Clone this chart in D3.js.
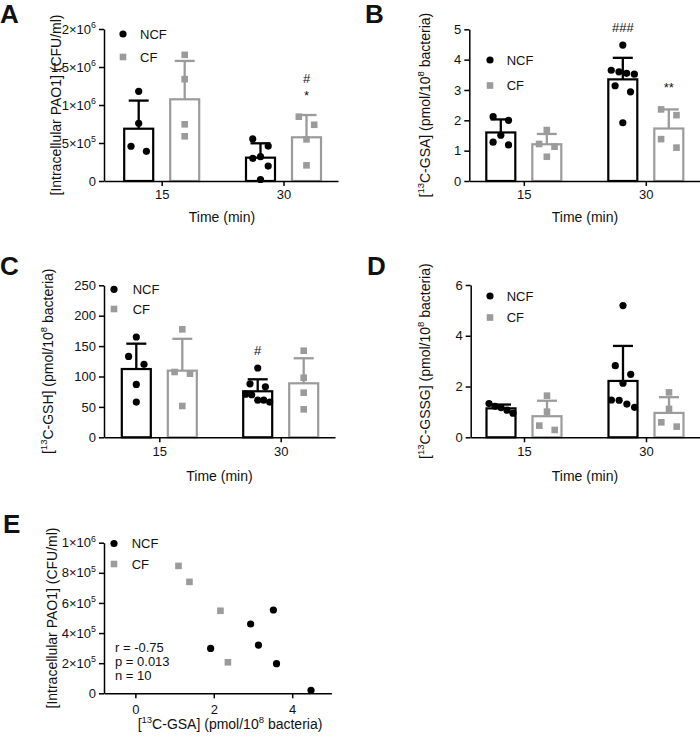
<!DOCTYPE html>
<html><head><meta charset="utf-8">
<script src="https://cdn.jsdelivr.net/npm/d3@7"></script>
<style>
body{margin:0;background:#fff}
svg{display:block}
text{font-family:"Liberation Sans",Arial,Helvetica,sans-serif;fill:#111}
</style>
</head><body>
<svg id="chart" width="700" height="741"></svg>
<script>
// ---------------- data ----------------
const times = ["15", "30"];
const groups = ["NCF", "CF"];

// Panel A: intracellular PAO1 (CFU/ml)
const pao1NcfMean = [6.88e5, 3.07e5];
const pao1NcfSd   = [3.70e5, 1.89e5];
const pao1CfMean  = [1.075e6, 5.75e5];
const pao1CfSd    = [5.05e5, 2.93e5];
const pao1Ncf15 = [1.18e6, 7.6e5, 4.57e5, 3.9e5];
const pao1Ncf30 = [5.53e5, 4.6e5, 3.2e5, 2.98e5, 1.97e5, 2.0e4];
const pao1Cf15  = [1.66e6, 1.34e6, 7.46e5, 5.88e5];
const pao1Cf30  = [8.46e5, 7.4e5, 5.48e5, 2.06e5];
const pao1Ticks = [0, 5e5, 1e6, 1.5e6, 2e6];

// Panel B: 13C-GSA
const gsaNcfMean = [1.60, 3.35];
const gsaNcfSd   = [0.43, 0.71];
const gsaCfMean  = [1.21, 1.73];
const gsaCfSd    = [0.34, 0.63];
const gsaNcf15 = [2.12, 2.00, 1.51, 1.28, 1.19];
const gsaNcf30 = [4.48, 3.65, 3.60, 3.55, 3.52, 3.14, 2.94, 1.92];
const gsaCf15  = [1.68, 1.22, 1.13, 0.80];
const gsaCf30  = [2.36, 2.17, 1.38, 1.10];
const gsaTicks = [0, 1, 2, 3, 4, 5];

// Panel C: 13C-GSH
const gshNcfMean = [112.3, 75.7];
const gshNcfSd   = [41.7, 19.7];
const gshCfMean  = [109.6, 88.8];
const gshCfSd    = [52.4, 41.2];
const gshNcf15 = [165, 133, 120, 87, 58];
const gshNcf30 = [114, 88, 83, 71, 70, 61, 61, 58];
const gshCf15  = [177.6, 107.4, 104.6, 51.5];
const gshCf30  = [142.4, 98, 73.4, 46];
const gshTicks = [0, 50, 100, 150, 200, 250];

// Panel D: 13C-GSSG
const gssgNcfMean = [1.14, 2.22];
const gssgNcfSd   = [0.15, 1.38];
const gssgCfMean  = [0.83, 0.96];
const gssgCfSd    = [0.61, 0.62];
const gssgNcf15 = [1.33, 1.22, 1.17, 1.07, 0.95];
const gssgNcf30 = [5.19, 2.82, 2.48, 2.13, 1.47, 1.46, 1.31, 1.18];
const gssgCf15  = [1.64, 1.01, 0.46, 0.29];
const gssgCf30  = [1.77, 1.12, 0.59, 0.42];
const gssgTicks = [0, 2, 4, 6];

// Panel E: correlation GSA vs PAO1
const corrNcfGsa  = [1.92, 2.94, 3.14, 3.52, 3.60, 4.48];
const corrNcfPao1 = [2.98e5, 4.6e5, 3.2e5, 5.53e5, 1.97e5, 2.0e4];
const corrCfGsa   = [1.10, 1.38, 2.17, 2.36];
const corrCfPao1  = [8.46e5, 7.4e5, 5.48e5, 2.06e5];
const corrXTicks  = [0, 2, 4];
const corrYTicks  = [0, 2e5, 4e5, 6e5, 8e5, 1e6];
const corrStats   = ["r = -0.75", "p = 0.013", "n = 10"];

// significance labels
const annotA = [{time: "30", group: "CF", lines: ["#", "*"]}];
const annotB = [{time: "30", group: "NCF", lines: ["###"]}, {time: "30", group: "CF", lines: ["**"]}];
const annotC = [{time: "30", group: "NCF", lines: ["#"]}];

// ---------------- style ----------------
const BLACK = "#000";
const GRAY = "#9b9b9b";
const colors = {NCF: BLACK, CF: GRAY};
const TICK_FS = 13, TITLE_FS = 14, LEG_FS = 13;

const svg = d3.select("#chart");

function rich(sel, str, size) {
  sel.text(null);
  const parts = str.split(/(\{[^}]*\})/).filter(s => s.length);
  let up = false;
  parts.forEach(p => {
    const sup = p[0] === "{";
    const t = sup ? p.slice(1, -1) : p;
    const ts = sel.append("tspan").text(t);
    if (sup) {
      ts.attr("font-size", size * 0.68);
      if (!up) { ts.attr("dy", -size * 0.42); up = true; }
    } else if (up) { ts.attr("dy", size * 0.42); up = false; }
  });
}
function sci(v) {
  if (v === 0) return "0";
  const e = Math.floor(Math.log10(v) + 1e-9);
  const m = +(v / Math.pow(10, e)).toFixed(2);
  return m + "×10{" + e + "}";
}
const plain = d => String(d);
function styleAxis(ax) {
  ax.selectAll("path,line").attr("stroke", BLACK).attr("stroke-width", 1.5);
  ax.selectAll("text").attr("font-size", TICK_FS).attr("fill", "#111")
    .attr("font-family", "'Liberation Sans',Arial,sans-serif");
}
function swarm(vals, y, D, s, maxHalf) {
  const ys = vals.map(y);
  const idx = d3.range(vals.length).sort((a, b) => ys[a] - ys[b]);
  const off = new Array(vals.length).fill(0);
  let i = 0;
  while (i < idx.length) {
    const row = [idx[i]]; let j = i + 1;
    while (j < idx.length && ys[idx[j]] - ys[idx[i]] < D) { row.push(idx[j]); j++; }
    const n = row.length;
    let offs;
    if (n === 1) offs = [0];
    else if (n === 2) offs = [-s, s];
    else if (n === 3) offs = [0, -s, s];
    else { const w = Math.min(s, 2 * maxHalf / (n - 1)); offs = row.map((_, k) => (k - (n - 1) / 2) * w); }
    row.forEach((r, k) => off[r] = offs[k]);
    i = j;
  }
  return off;
}
function marker(g, group, cx, cy) {
  if (group === "NCF") g.append("circle").attr("cx", cx).attr("cy", cy).attr("r", 3.6).attr("fill", BLACK);
  else g.append("rect").attr("x", cx - 3.3).attr("y", cy - 3.3).attr("width", 6.6).attr("height", 6.6).attr("fill", GRAY);
}
function legend(g, L) {
  groups.forEach((grp, i) => {
    marker(g, grp, L.lx, L.ly[i]);
    g.append("text").attr("x", L.tx).attr("y", L.ly[i] + 4.7).attr("font-size", LEG_FS).text(grp);
  });
}
function letter(g, L) {
  g.append("text").attr("x", L.letterPos[0]).attr("y", L.letterPos[1])
    .attr("font-size", 26).attr("font-weight", "bold").attr("fill", BLACK).text(L.letter);
}
function yTitle(g, L) {
  const cy = (L.yTop + L.yBot) / 2;
  const t = g.append("text").attr("transform", `translate(${L.yTitleX},${cy}) rotate(-90)`)
    .attr("text-anchor", "middle").attr("font-size", TITLE_FS);
  rich(t, L.yTitle, TITLE_FS);
}
function xTitle(g, L) {
  const t = g.append("text").attr("x", L.xTitleX).attr("y", L.xTitleY)
    .attr("text-anchor", "middle").attr("font-size", TITLE_FS);
  rich(t, L.xTitle, TITLE_FS);
}

function barPanel(L, D) {
  const g = svg.append("g");
  const y = d3.scaleLinear().domain([0, L.yMax]).range([L.yBot, L.yTop]);
  const W = L.right - L.left, step = L.gc[1] - L.gc[0];
  const x = d3.scalePoint().domain(times).range([L.left, L.right])
    .padding((W / step - 1) / 2).align((L.gc[0] - L.left) / (W - step));
  const sub = d3.scalePoint().domain(groups).range([-23, 23]);
  const bw = 29;

  groups.forEach(grp => times.forEach((t, i) => {
    const cx = x(t) + sub(grp), m = D.mean[grp][i], sd = D.sd[grp][i];
    g.append("rect").attr("x", cx - bw / 2).attr("y", y(m)).attr("width", bw).attr("height", y(0) - y(m))
      .attr("fill", "#fff").attr("stroke", colors[grp]).attr("stroke-width", 2.2);
    g.append("line").attr("x1", cx).attr("x2", cx).attr("y1", y(m)).attr("y2", y(m + sd))
      .attr("stroke", colors[grp]).attr("stroke-width", 2.3);
    g.append("line").attr("x1", cx - 10).attr("x2", cx + 10).attr("y1", y(m + sd)).attr("y2", y(m + sd))
      .attr("stroke", colors[grp]).attr("stroke-width", 2.3);
  }));

  const ay = g.append("g").attr("transform", `translate(${L.left},0)`)
    .call(d3.axisLeft(y).tickValues(L.ticks).tickFormat(plain).tickSize(5).tickSizeOuter(0).tickPadding(3));
  styleAxis(ay);
  if (L.sci) ay.selectAll(".tick text").each(function (d) { rich(d3.select(this), sci(d), TICK_FS); });
  const ax = g.append("g").attr("transform", `translate(0,${L.yBot})`)
    .call(d3.axisBottom(x).tickSize(5).tickSizeOuter(0).tickPadding(4));
  styleAxis(ax);

  groups.forEach(grp => times.forEach((t, i) => {
    const vals = D.pts[grp][i];
    const offs = swarm(vals, y, 10, 7.7, 12);
    vals.forEach((v, k) => marker(g, grp, x(t) + sub(grp) + offs[k], y(v)));
  }));

  (D.annot || []).forEach(a => {
    const i = times.indexOf(a.time);
    const cx = x(a.time) + sub(a.group);
    const top = Math.min(y(D.mean[a.group][i] + D.sd[a.group][i]), y(d3.max(D.pts[a.group][i])) - 3.6);
    const last = a.lines[a.lines.length - 1];
    let base = top - (last.includes("*") ? 13.5 : 9.5);
    a.lines.slice().reverse().forEach(line => {
      g.append("text").attr("x", cx).attr("y", base).attr("text-anchor", "middle")
        .attr("font-size", 13).text(line);
      base -= 17;
    });
  });

  legend(g, L); letter(g, L); yTitle(g, L); xTitle(g, L);
}

// ---------------- panels ----------------
barPanel({
  left: 104, right: 338, yTop: 29, yBot: 181, gc: [161.7, 283.5], yMax: 2e6, ticks: pao1Ticks, sci: true,
  yTitle: "[Intracellular PAO1] (CFU/ml)", yTitleX: 61, xTitle: "Time (min)", xTitleX: 222, xTitleY: 222,
  letter: "A", letterPos: [0, 23], lx: 123, ly: [34, 57], tx: 140
}, {
  mean: {NCF: pao1NcfMean, CF: pao1CfMean}, sd: {NCF: pao1NcfSd, CF: pao1CfSd},
  pts: {NCF: [pao1Ncf15, pao1Ncf30], CF: [pao1Cf15, pao1Cf30]}, annot: annotA
});

barPanel({
  left: 469.3, right: 703, yTop: 29.3, yBot: 181, gc: [523.8, 645.8], yMax: 5, ticks: gsaTicks, sci: false,
  yTitle: "[{13}C-GSA] (pmol/10{8} bacteria)", yTitleX: 430, xTitle: "Time (min)", xTitleX: 585, xTitleY: 222,
  letter: "B", letterPos: [365, 23], lx: 490, ly: [60, 85.5], tx: 506.7
}, {
  mean: {NCF: gsaNcfMean, CF: gsaCfMean}, sd: {NCF: gsaNcfSd, CF: gsaCfSd},
  pts: {NCF: [gsaNcf15, gsaNcf30], CF: [gsaCf15, gsaCf30]}, annot: annotB
});

barPanel({
  left: 104, right: 335, yTop: 285.3, yBot: 437.3, gc: [159.3, 280.7], yMax: 250, ticks: gshTicks, sci: false,
  yTitle: "[{13}C-GSH] (pmol/10{8} bacteria)", yTitleX: 53, xTitle: "Time (min)", xTitleX: 219.5, xTitleY: 481,
  letter: "C", letterPos: [0, 275], lx: 114, ly: [289.3, 309], tx: 132.7
}, {
  mean: {NCF: gshNcfMean, CF: gshCfMean}, sd: {NCF: gshNcfSd, CF: gshCfSd},
  pts: {NCF: [gshNcf15, gshNcf30], CF: [gshCf15, gshCf30]}, annot: annotC
});

barPanel({
  left: 470.7, right: 703, yTop: 285, yBot: 437.3, gc: [524, 646], yMax: 6, ticks: gssgTicks, sci: false,
  yTitle: "[{13}C-GSSG] (pmol/10{8} bacteria)", yTitleX: 430, xTitle: "Time (min)", xTitleX: 585, xTitleY: 481,
  letter: "D", letterPos: [367, 275], lx: 490, ly: [296, 317.5], tx: 506.7
}, {
  mean: {NCF: gssgNcfMean, CF: gssgCfMean}, sd: {NCF: gssgNcfSd, CF: gssgCfSd},
  pts: {NCF: [gssgNcf15, gssgNcf30], CF: [gssgCf15, gssgCf30]}, annot: []
});

// Panel E scatter
(function () {
  const L = {
    left: 104, right: 331.4, yTop: 542.7, yBot: 693.3,
    yTitle: "[Intracellular PAO1] (CFU/ml)", yTitleX: 57,
    xTitle: "[{13}C-GSA] (pmol/10{8} bacteria)", xTitleX: 230, xTitleY: 729,
    letter: "E", letterPos: [3, 533], lx: 114, ly: [543.5, 564], tx: 131.7
  };
  const g = svg.append("g");
  const x = d3.scaleLinear().domain([-0.8, 5]).range([L.left, L.right]);
  const y = d3.scaleLinear().domain([0, 1e6]).range([L.yBot, L.yTop]);
  const ay = g.append("g").attr("transform", `translate(${L.left},0)`)
    .call(d3.axisLeft(y).tickValues(corrYTicks).tickSize(5).tickSizeOuter(0).tickPadding(3));
  styleAxis(ay);
  ay.selectAll(".tick text").each(function (d) { rich(d3.select(this), sci(d), TICK_FS); });
  const ax = g.append("g").attr("transform", `translate(0,${L.yBot})`)
    .call(d3.axisBottom(x).tickValues(corrXTicks).tickFormat(plain).tickSize(5).tickSizeOuter(0).tickPadding(6));
  styleAxis(ax);
  corrCfGsa.forEach((v, i) => marker(g, "CF", x(v), y(corrCfPao1[i])));
  corrNcfGsa.forEach((v, i) => marker(g, "NCF", x(v), y(corrNcfPao1[i])));
  corrStats.forEach((s, i) => g.append("text").attr("x", 115).attr("y", 651.5 + i * 14)
    .attr("font-size", 13).text(s));
  legend(g, L); letter(g, L); yTitle(g, L); xTitle(g, L);
})();
</script>
</body></html>
